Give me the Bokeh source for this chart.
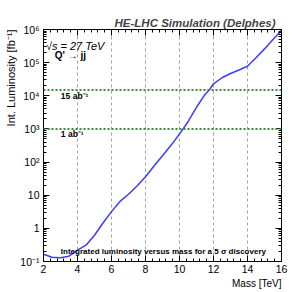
import numpy as np
from bokeh.plotting import figure
from bokeh.models import (LogAxis, LinearAxis, Label, Range1d, FixedTicker, Title,
                          SingleIntervalTicker, Span, CustomJSTickFormatter)
from bokeh.embed import file_html
from bokeh.resources import INLINE

# ---- data ----
mass = [2.0, 2.5, 3.0, 3.5, 4.0, 4.5, 5.0, 5.5, 6.0, 6.5, 7.0, 7.5, 8.0, 8.5, 9.0, 9.5,
        10.0, 10.5, 11.0, 11.5, 11.75, 12.0, 12.5, 13.0, 13.5, 14.0, 14.5, 15.0, 15.5, 16.0]
lumi = [0.165, 0.135, 0.13, 0.145, 0.22, 0.31, 0.62, 1.45, 3.2, 6.5, 10.7, 19, 36, 76, 155, 320,
        700, 1650, 4500, 1.1e4, 1.5e4, 2.3e4, 3.5e4, 4.7e4, 6.0e4, 7.8e4, 1.4e5, 2.6e5, 5.0e5, 9.3e5]
x_ticks = [2, 4, 6, 8, 10, 12, 14, 16]
y_ticks = [0.1, 1.0, 10.0, 100.0, 1000.0, 1e4, 1e5, 1e6]
y_tick_labels = ["10\u207b\u00b9", "1", "10", "10\u00b2", "10\u00b3", "10\u2074", "10\u2075", "10\u2076"]
lumi_targets = [15000.0, 1000.0]
lumi_target_labels = ["15 ab\u207b\u00b9", "1 ab\u207b\u00b9"]
x_title = "Mass [TeV]"
y_title = "Int. Luminosity [fb\u207b\u00b9]"

FONT = "Liberation Sans"
BLUE = "#3c3cff"
GREEN = "#3a8a3a"

y_minor = [m * 10.0 ** e for e in range(-1, 6) for m in range(2, 10)]

p = figure(width=297, height=290, x_range=Range1d(2, 16), y_range=Range1d(0.1, 1e6),
           y_axis_type="log", output_backend="svg", toolbar_location=None,
           min_border_left=43, min_border_right=16, min_border_top=29, min_border_bottom=29,
           title="HE-LHC Simulation (Delphes)")
p.background_fill_color = "white"
p.border_fill_color = "white"
p.outline_line_color = "black"
p.outline_line_width = 1

p.title.align = "right"
p.title.text_font = FONT
p.title.text_font_style = "bold italic"
p.title.text_font_size = "11.5px"
p.title.offset = 6
p.title.standoff = 1

xt = SingleIntervalTicker(interval=2, num_minor_ticks=5)
yt = FixedTicker(ticks=y_ticks, minor_ticks=y_minor)

def style_axis(ax):
    ax.major_tick_in = 6
    ax.major_tick_out = 0
    ax.minor_tick_in = 3
    ax.minor_tick_out = 0
    ax.axis_line_color = "black"
    ax.major_tick_line_color = "black"
    ax.minor_tick_line_color = "black"
    ax.major_label_text_font = FONT
    ax.major_label_text_font_size = "10.5px"
    ax.major_label_text_color = "black"

xa = p.xaxis[0]
xa.ticker = xt
style_axis(xa)
xa.major_label_standoff = 3

ya = p.yaxis[0]
ya.ticker = yt
style_axis(ya)
ya.major_label_standoff = 4
ya.major_label_overrides = {float(v): s for v, s in zip(y_ticks, y_tick_labels)}

blank = CustomJSTickFormatter(code="return ''")
ra = LogAxis(ticker=FixedTicker(ticks=y_ticks, minor_ticks=y_minor), formatter=blank)
style_axis(ra)
ra.major_label_standoff = 0
p.add_layout(ra, "right")

ta = LinearAxis(ticker=SingleIntervalTicker(interval=2, num_minor_ticks=5), formatter=blank)
style_axis(ta)
ta.major_label_standoff = 0
p.add_layout(ta, "above")

# axis titles (ROOT style: aligned to the end of the axis)
p.add_layout(Title(text=x_title, align="right", text_font=FONT, text_font_size="10px",
                   text_font_style="normal", text_color="black", standoff=0, offset=0), "below")
p.add_layout(Title(text=y_title, align="right", text_font=FONT, text_font_size="11px",
                   text_font_style="normal", text_color="black", standoff=1, offset=0), "left")

# invisible spacer outside the y title, so the title sits close to the tick labels
spacer = LogAxis(ticker=FixedTicker(ticks=y_ticks), formatter=blank,
                 axis_line_color=None, major_tick_line_color=None, minor_tick_line_color=None,
                 major_tick_in=0, major_tick_out=0, minor_tick_in=0, minor_tick_out=0,
                 major_label_standoff=7)
p.add_layout(spacer, "left")

p.xgrid.ticker = x_ticks
p.xgrid.grid_line_color = "#888888"
p.xgrid.grid_line_dash = "3 3"
p.xgrid.grid_line_width = 0.8
p.ygrid.visible = False

for loc in lumi_targets:
    p.add_layout(Span(location=loc, dimension="width", line_color=GREEN,
                      line_width=2, line_dash="2 2"))

p.line(mass, lumi, line_color=BLUE, line_width=1.5)

def add_label(x, y, text, size, style):
    p.add_layout(Label(x=x, y=y, text=text, text_font=FONT, text_font_size=size,
                       text_font_style=style, text_baseline="middle", text_color="black"))

add_label(2.14, 3.2e5, "\u221as = 27 TeV", "11px", "italic")
add_label(2.66, 1.6e5, "Q'  \u2192 jj", "10px", "bold")
add_label(3.02, 1.0e4, lumi_target_labels[0], "8.5px", "bold")
add_label(3.02, 680, lumi_target_labels[1], "8.5px", "bold")
add_label(3.02, 0.2, "Integrated luminosity versus mass for a 5  \u03c3 discovery", "8px", "bold")

open("out.html", "w").write(file_html(p, INLINE))
